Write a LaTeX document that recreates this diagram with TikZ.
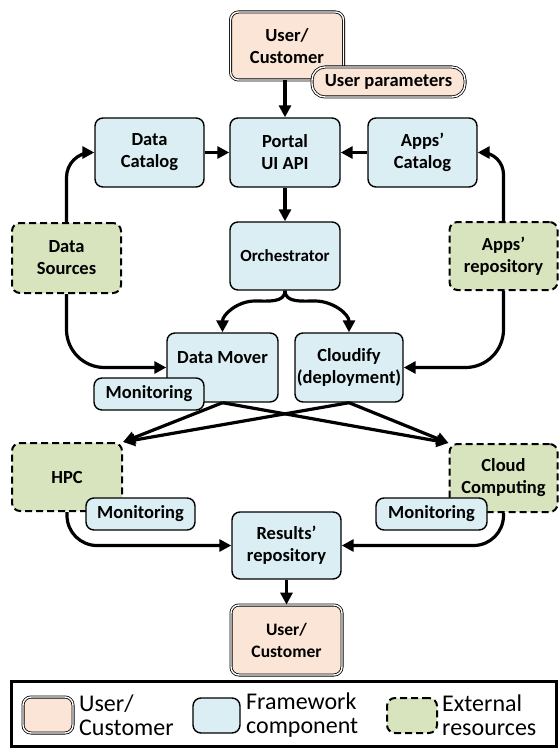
\documentclass[tikz,border=0pt]{standalone}
\usepackage{fontspec}
\setmainfont{Carlito}
\usetikzlibrary{arrows.meta}
\definecolor{peach}{HTML}{FBE5D6}
\definecolor{fwblue}{HTML}{DAEEF3}
\definecolor{extgreen}{HTML}{D7E4BD}
\begin{document}
\begin{tikzpicture}[x=1pt,y=-1pt,
  box/.style={draw, rounded corners=8pt, line width=1.4pt, align=center,
    font=\fontsize{18.5}{22}\selectfont\bfseries, inner sep=0pt},
  userbox/.style={box, fill=peach, line width=0.8pt, double=white, double distance=1.4pt},
  fw/.style={box, fill=fwblue},
  ext/.style={box, fill=extgreen, line width=2pt, dash pattern=on 7pt off 4pt},
  mon/.style={fw, minimum height=32pt},
  arr/.style={line width=3.2pt, -{Triangle[length=12pt,width=12pt]}},
  legtext/.style={anchor=west, align=left, inner sep=0pt, font=\fontsize{24}{24}\selectfont},
]
\useasboundingbox (0,0) rectangle (559,749);

% main nodes
\node[userbox, minimum width=113pt, minimum height=68pt] (user1) at (287,46) {User/\\Customer};
\node[fw, minimum width=109pt, minimum height=69pt] (dcat) at (149.5,152.5) {Data\\Catalog};
\node[fw, minimum width=110pt, minimum height=69pt] (portal) at (285,152.5) {Portal\\UI API};
\node[fw, minimum width=109pt, minimum height=69pt] (acat) at (422.5,152.5) {Apps'\\Catalog};
\node[ext, minimum width=109pt, minimum height=70pt] (dsrc) at (66.5,258) {Data\\Sources};
\node[fw, minimum width=110pt, minimum height=68pt, font=\fontsize{17}{20}\selectfont\bfseries] (orch) at (285,256) {Orchestrator};
\node[ext, minimum width=108pt, minimum height=68pt] (arep) at (503.5,256) {Apps'\\repository};
\node[fw, minimum width=111pt, minimum height=69pt] (dmover) at (222.5,367.5) {};
\node[inner sep=0pt, font=\fontsize{18.5}{22}\selectfont\bfseries] (dmovertext) at (222.5,358) {Data Mover};
\node[fw, minimum width=108pt, minimum height=69pt] (cloudify) at (349,367.5) {Cloudify\\(deployment)};
\node[ext, minimum width=110pt, minimum height=68pt] (hpc) at (67,477) {HPC};
\node[ext, minimum width=108pt, minimum height=68pt] (cloud) at (503.5,478) {Cloud\\Computing};
\node[fw, minimum width=109pt, minimum height=67pt] (results) at (286.5,545.5) {Results'\\repository};
\node[userbox, minimum width=111pt, minimum height=70pt, font=\fontsize{17.5}{22}\selectfont\bfseries] (user2) at (286.5,640) {User/\\Customer};

% connectors
\draw[arr] (user1.south -| portal.north) -- (portal.north);
\draw[arr] (dcat.east) -- (portal.west);
\draw[arr] (acat.west) -- (portal.east);
\draw[arr] (portal.south) -- (orch.north);
\draw[arr] (orch.south) to[out=-90,in=0] (255,301) to[out=180,in=90] (dmover.north);
\draw[arr] (orch.south) to[out=-90,in=180] (315,301) to[out=0,in=90] (cloudify.north);
\draw[arr, rounded corners=25pt] (dsrc.north) |- (dcat.west);
\draw[arr, rounded corners=38pt] (dsrc.south) |- (dmover.west);
\draw[arr, rounded corners=22pt] (arep.north) |- (acat.east);
\draw[arr, rounded corners=38pt] (arep.south) |- (cloudify.east);
\draw[arr] (dmover.south) -- (hpc.north east);
\draw[arr] (dmover.south) -- (cloud.north west);
\draw[arr] (cloudify.south) -- (hpc.north east);
\draw[arr] (cloudify.south) -- (cloud.north west);
\draw[arr, rounded corners=30pt] (hpc.south) |- (results.west);
\draw[arr, rounded corners=30pt] (cloud.south) |- (results.east);
\draw[arr] (results.south) -- (user2.north);

% overlapping small nodes
\node[userbox, rounded corners=13pt, minimum width=153pt, minimum height=30pt] (params) at (388.5,82) {User parameters};
\node[mon, minimum width=110pt] (dmmon) at (149,394) {Monitoring};
\node[mon, minimum width=109pt] (hpcmon) at (140.5,514) {Monitoring};
\node[mon, minimum width=111pt] (ccmon) at (431.5,514) {Monitoring};

% legend
\node[draw, line width=2.5pt, minimum width=545pt, minimum height=65pt, inner sep=0pt] (legend) at (284,714) {};
\node[userbox, minimum width=50pt, minimum height=36pt] (ldbl) at (48,715) {};
\node[legtext] (ldbltext) at (79,715) {User/\\Customer};
\node[fw, minimum width=47pt, minimum height=35pt] (lfw) at (216.5,715.5) {};
\node[legtext] (lfwtext) at (246,715) {Framework\\component};
\node[ext, minimum width=50pt, minimum height=35pt] (lext) at (412,715.5) {};
\node[legtext] (lexttext) at (442,715) {External\\resources};
\end{tikzpicture}
\end{document}
